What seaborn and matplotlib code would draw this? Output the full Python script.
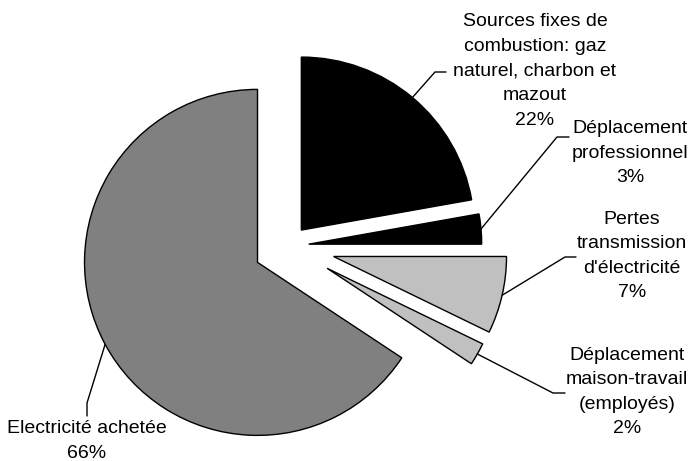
import numpy as np
import matplotlib
matplotlib.use("Agg")
import matplotlib.pyplot as plt
import seaborn as sns

# Data
categories = [
    "Sources fixes de\ncombustion: gaz\nnaturel, charbon et\nmazout",
    "Déplacement\nprofessionnel",
    "Pertes\ntransmission\nd'électricité",
    "Déplacement\nmaison-travail\n(employés)",
    "Electricité achetée",
]
shares = [22.2, 2.8, 7.2, 2.1, 65.7]
colors = ["#000000", "#000000", "#c0c0c0", "#c0c0c0", "#808080"]
explode = [0.12, 0.12, 0.27, 0.26, 0.2]

sns.set_theme(style="white")
plt.rcParams["font.family"] = ["Liberation Sans", "DejaVu Sans"]

W, H = 696, 461
R = 173.0          # pie radius in pixels
CX, CY = 288, 246  # pie centre in pixels (from top-left)


def px(x, y):
    # pixel position -> data coords (radius = 1)
    return (x - CX) / R, (CY - y) / R


fig = plt.figure(figsize=(W / 100, H / 100), dpi=100)
ax = fig.add_axes([0, 0, 1, 1])

wedges, _ = ax.pie(
    shares,
    colors=colors,
    explode=explode,
    startangle=90,
    counterclock=False,
    radius=1,
    wedgeprops=dict(edgecolor="black", linewidth=1),
)

# label text centres and leader elbow / end points (pixels)
label_pos = [(535, 71), (630, 153), (632, 256), (627, 392), (87, 441)]
elbows = [(435, 72), (557, 137), (565, 257), (553, 393), (87, 403)]
ends = [(446, 72), (569, 137), (576, 257), (565, 393), (87, 416)]

for w, cat, val, lp, el, en in zip(wedges, categories, shares, label_pos, elbows, ends):
    mid = np.deg2rad((w.theta1 + w.theta2) / 2)
    cx, cy = w.center
    ax_pt = (cx + w.r * np.cos(mid), cy + w.r * np.sin(mid))
    e1 = px(*el)
    e2 = px(*en)
    ax.plot([ax_pt[0], e1[0], e2[0]], [ax_pt[1], e1[1], e2[1]],
            color="black", linewidth=1)
    tx, ty = px(*lp)
    ax.text(tx, ty, f"{cat}\n{val:.0f}%", ha="center", va="center",
            fontsize=14, linespacing=1.58, color="black")

ax.set_xlim(-CX / R, (W - CX) / R)
ax.set_ylim(-(H - CY) / R, CY / R)
ax.set_aspect("equal")
ax.axis("off")

fig.savefig("out.png", dpi=100)
